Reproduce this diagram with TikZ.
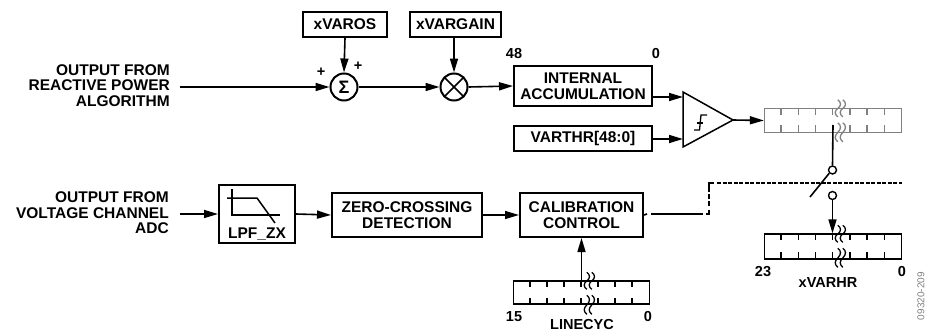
\documentclass[tikz,border=0pt]{standalone}
\usepackage{fontspec}
\setmainfont{Liberation Sans}
\usetikzlibrary{arrows.meta,calc}
\begin{document}
\begin{tikzpicture}[x=1pt,y=-1pt,
  lbl/.style={font=\bfseries\fontsize{15.5}{15.5}\selectfont, inner sep=0pt, align=right},
  blk/.style={draw, line width=2pt, inner sep=0pt, align=center, font=\bfseries\fontsize{15.5}{16}\selectfont},
  num/.style={font=\bfseries\fontsize{14.5}{15}\selectfont, inner sep=0pt},
  reg/.style={draw, line width=1.3pt, inner sep=0pt, minimum height=24pt},
  rtick/.style={line width=1.3pt},
  arr/.style={line width=1.6pt, -{Triangle[length=14pt,width=8pt]}},
  ln/.style={line width=1.6pt},
  cnt/.style={draw, circle, line width=1.4pt, minimum size=8pt, inner sep=0pt},
  brk/.pic={
    \foreach \dx in {0,5} {
      \draw[line width=1.3pt] (\dx,-8) .. controls (\dx+3.5,-5.5) and (\dx+3.5,-2) .. (\dx,0.5) .. controls (\dx-3.5,3) and (\dx-3.5,6.5) .. (\dx,9);
      \draw[line width=1.3pt] (\dx,15) .. controls (\dx+3.5,17.5) and (\dx+3.5,21) .. (\dx,24.5) .. controls (\dx-3.5,28) and (\dx-3.5,31) .. (\dx,34);
    }
  }]
\useasboundingbox (0,0) rectangle (929,332);

% ---------- top row ----------
\node[lbl, anchor=east] (inA) at (170,85.5) {OUTPUT FROM\\REACTIVE POWER\\ALGORITHM};
\coordinate (inAe) at (180,87);

\node[blk, minimum width=84pt, minimum height=25pt] (varos) at (345,24.5) {xVAROS};
\node[blk, minimum width=91pt, minimum height=25pt] (vargain) at (455.5,24.5) {xVARGAIN};
\node[draw, circle, line width=2pt, minimum size=27pt, inner sep=0pt] (sum) at (344,87) {};
\node[font=\bfseries\fontsize{18}{18}\selectfont, inner sep=0pt] at (344,87.5) {Σ};
\node[draw, circle, line width=2pt, minimum size=27pt, inner sep=0pt] (mul) at (454,87) {};
\draw[line width=1.6pt] ($(mul.center)+(-9.5,-9.5)$) -- ($(mul.center)+(9.5,9.5)$);
\draw[line width=1.6pt] ($(mul.center)+(-9.5,9.5)$) -- ($(mul.center)+(9.5,-9.5)$);
\node[num] at (321,72) {+};
\node[num] at (358,66) {+};

\node[blk, minimum width=138pt, minimum height=40pt] (acc) at (583,86) {INTERNAL\\ACCUMULATION};
\node[blk, minimum width=138pt, minimum height=25pt] (varthr) at (583,138.5) {VARTHR[48:0]};
\node[num] at (514,54) {48};
\node[num] at (656,54) {0};

\draw[arr] (inAe) -- (sum.west);
\draw[arr] (varos.south) -- (sum.north);
\draw[arr] (sum.east) -- (mul.west);
\draw[arr] (mul.north |- vargain.south) -- (mul.north);
\draw[arr] (mul.east) -- (acc.west);

% comparator
\coordinate (cmpA) at (683,97);
\coordinate (cmpB) at (683,139);
\coordinate (cmpO) at (733,120);
\draw[line width=1.5pt, line join=miter] (683,92) -- (683,147) -- (cmpO) -- cycle;
\draw[line width=1.3pt] (694,130) -- (699.5,130) -- (701,115) -- (707,115);
\draw[line width=1.3pt] (697,123) -- (703,123);
\draw[arr] (acc.east |- cmpA) -- (cmpA);
\draw[arr] (varthr.east |- cmpB) -- (cmpB);

% gray register
\node[reg, draw=gray, minimum width=137pt] (r1) at (833,120.5) {};
\foreach \k in {1,...,7} {
  \draw[rtick, gray] ($(r1.north west)+(17.2*\k,0)$) -- ++(0,7);
  \draw[rtick, gray] ($(r1.south west)+(17.2*\k,0)$) -- ++(0,-8);
}
\pic[color=gray] at ($(r1.north west)+(74,0)$) {brk};
\draw[arr] (cmpO) -- (r1.west);

% switch
\node[cnt] (sw1) at (832.5,170) {};
\node[cnt] (sw2) at (832.5,195.5) {};
\draw[ln] (833,125) -- (sw1.north);
\coordinate (blade) at (810,197);
\draw[ln] (blade) -- (sw1.south west);

% ---------- bottom row ----------
\node[lbl, anchor=east] (inB) at (169,213) {OUTPUT FROM\\VOLTAGE CHANNEL\\ADC};
\coordinate (inBe) at (180,214);
\node[blk, minimum width=76pt, minimum height=58pt] (lpf) at (257,214) {};
\node[font=\bfseries\fontsize{15.5}{16}\selectfont, inner sep=0pt] at (257,234) {LPF\_ZX};
\draw[line width=1.5pt] (232,189) -- (232,215) -- (280,215);
\draw[line width=1.5pt] (227,198) -- (257,198) -- (275,223);

\node[blk, minimum width=150pt, minimum height=44pt] (zc) at (407,215) {ZERO-CROSSING\\DETECTION};
\node[blk, minimum width=123pt, minimum height=44pt] (cal) at (581.5,215) {CALIBRATION\\CONTROL};

\draw[arr] (inBe) -- (lpf.west);
\draw[arr] (lpf.east) -- (zc.west);
\draw[arr] (zc.east) -- (cal.west);

% LINECYC register
\node[reg, minimum width=136pt, minimum height=23pt] (r2) at (581.5,292.5) {};
\foreach \k in {1,...,7} {
  \draw[rtick] ($(r2.north west)+(17*\k,0)$) -- ++(0,7);
  \draw[rtick] ($(r2.south west)+(17*\k,0)$) -- ++(0,-7);
}
\pic at ($(r2.north west)+(74,0)$) {brk};
\draw[arr] (r2.north) -- (cal.south);
\node[num] at (514,317) {15};
\node[num] at (648,317) {0};
\node[num] at (582,325) {LINECYC};

% control line (dashed)
\draw[ln] (cal.east) -- (647,214);
\draw[ln] (651,214) -- (703,214);
\draw[ln] (706,214) -- (709,214) -- (709,210);
\draw[line width=1.4pt, dash pattern=on 5pt off 2pt] (709,206) -- (709,186);
\draw[line width=1.4pt] (709,188) -- (709,183) -- (714,183);
\draw[line width=1.4pt, dash pattern=on 4pt off 1.5pt] (717,183) -- (902,183);

% xVARHR register
\node[reg, minimum width=137pt, minimum height=25pt] (r3) at (833,246.5) {};
\foreach \k in {1,...,7} {
  \draw[rtick] ($(r3.north west)+(17.2*\k,0)$) -- ++(0,7);
  \draw[rtick] ($(r3.south west)+(17.2*\k,0)$) -- ++(0,-8);
}
\pic at ($(r3.north west)+(74,0)$) {brk};
\draw[arr] (sw2.south) -- (sw2.south |- r3.north);
\node[num] at (763,272) {23};
\node[num] at (902,272) {0};
\node[num] at (828,283) {xVARHR};

% figure code
\node[rotate=90, anchor=east, inner sep=0pt, text=gray, font=\fontsize{10}{10}\selectfont] (code) at (921,272) {09320-209};
\end{tikzpicture}
\end{document}
